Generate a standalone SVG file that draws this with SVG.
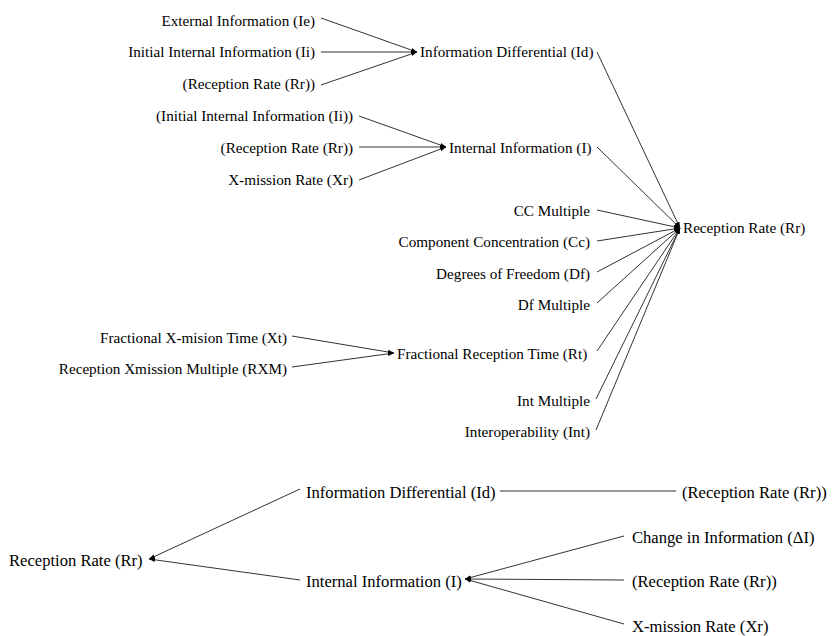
<svg xmlns="http://www.w3.org/2000/svg" width="834" height="636" viewBox="0 0 834 636">
<defs>
<style>
text{font-family:'Liberation Serif','Times New Roman',serif;font-size:15.2px;fill:#000}
.r{text-anchor:end}
.u text{font-size:16.6px}
.c line{stroke:#333;stroke-width:1}
.c .a{marker-end:url(#ah)}
.c .b{marker-start:url(#bh)}
</style>
<marker id="ah" markerUnits="userSpaceOnUse" markerWidth="6" markerHeight="6" refX="6" refY="3" orient="auto"><path d="M0,0.8 L6,3 L0,5.2 Z" fill="#000"/></marker>
<marker id="bh" markerUnits="userSpaceOnUse" markerWidth="6" markerHeight="6" refX="0" refY="3" orient="auto"><path d="M6,0.8 L0,3 L6,5.2 Z" fill="#000"/></marker>
</defs>
<rect width="834" height="636" fill="#fff"/>
<g class="c" id="connectors">
<line class="a" x1="321" y1="18" x2="417" y2="52"/>
<line class="a" x1="321" y1="52" x2="417" y2="52"/>
<line class="a" x1="321" y1="85" x2="417" y2="52"/>
<line class="a" x1="359" y1="116" x2="446" y2="147"/>
<line class="a" x1="359" y1="147" x2="446" y2="147"/>
<line class="a" x1="359" y1="180" x2="446" y2="147"/>
<line class="a" x1="292" y1="336" x2="394" y2="353"/>
<line class="a" x1="292" y1="367" x2="394" y2="353"/>
<line class="a" x1="597" y1="52" x2="680" y2="228"/>
<line class="a" x1="597" y1="147" x2="680" y2="228"/>
<line class="a" x1="597" y1="210" x2="680" y2="228"/>
<line class="a" x1="597" y1="241" x2="680" y2="228"/>
<line class="a" x1="597" y1="272" x2="680" y2="228"/>
<line class="a" x1="597" y1="303" x2="680" y2="228"/>
<line class="a" x1="597" y1="351" x2="680" y2="228"/>
<line class="a" x1="596" y1="399" x2="680" y2="228"/>
<line class="a" x1="596" y1="430" x2="680" y2="228"/>
<line class="b" x1="149" y1="559" x2="300" y2="489"/>
<line class="b" x1="149" y1="559" x2="300" y2="580"/>
<line x1="500" y1="491" x2="676" y2="491"/>
<line class="b" x1="465" y1="579" x2="624" y2="536"/>
<line class="b" x1="465" y1="579" x2="624" y2="580"/>
<line class="b" x1="465" y1="579" x2="624" y2="624"/>
</g>
<g font-family="Liberation Serif, Times New Roman, serif">
<g id="n_ie"><text class="r" x="315" y="26">External Information (Ie)</text></g>
<g id="n_ii"><text class="r" x="315" y="57">Initial Internal Information (Ii)</text></g>
<g id="n_rr1"><text class="r" x="315" y="89">(Reception Rate (Rr))</text></g>
<g id="n_id"><text x="420" y="57">Information Differential (Id)</text></g>
<g id="n_ii2"><text class="r" x="353" y="121">(Initial Internal Information (Ii))</text></g>
<g id="n_rr2"><text class="r" x="353" y="153">(Reception Rate (Rr))</text></g>
<g id="n_xr"><text class="r" x="353" y="185">X-mission Rate (Xr)</text></g>
<g id="n_i"><text x="449" y="153">Internal Information (I)</text></g>
<g id="n_ccm"><text class="r" x="590" y="216">CC Multiple</text></g>
<g id="n_cc"><text class="r" x="590" y="247">Component Concentration (Cc)</text></g>
<g id="n_df"><text class="r" x="590" y="279">Degrees of Freedom (Df)</text></g>
<g id="n_dfm"><text class="r" x="590" y="310">Df Multiple</text></g>
<g id="n_xt"><text class="r" x="287" y="343">Fractional X-mision Time (Xt)</text></g>
<g id="n_rxm"><text class="r" x="287" y="374">Reception Xmission Multiple (RXM)</text></g>
<g id="n_rt"><text x="397" y="359">Fractional Reception Time (Rt)</text></g>
<g id="n_intm"><text class="r" x="590" y="406">Int Multiple</text></g>
<g id="n_int"><text class="r" x="590" y="437">Interoperability (Int)</text></g>
<g id="n_rr"><text x="683" y="233">Reception Rate (Rr)</text></g>
<g class="u">
<g id="u_rr"><text x="9" y="565.5">Reception Rate (Rr)</text></g>
<g id="u_id"><text x="306" y="497.5">Information Differential (Id)</text></g>
<g id="u_rr2"><text x="682" y="497.5">(Reception Rate (Rr))</text></g>
<g id="u_i"><text x="306" y="586.5">Internal Information (I)</text></g>
<g id="u_di"><text x="632" y="542.5">Change in Information (ΔI)</text></g>
<g id="u_rr3"><text x="632" y="586.5">(Reception Rate (Rr))</text></g>
<g id="u_xr"><text x="632" y="631.5">X-mission Rate (Xr)</text></g>
</g>
</g>
</svg>
